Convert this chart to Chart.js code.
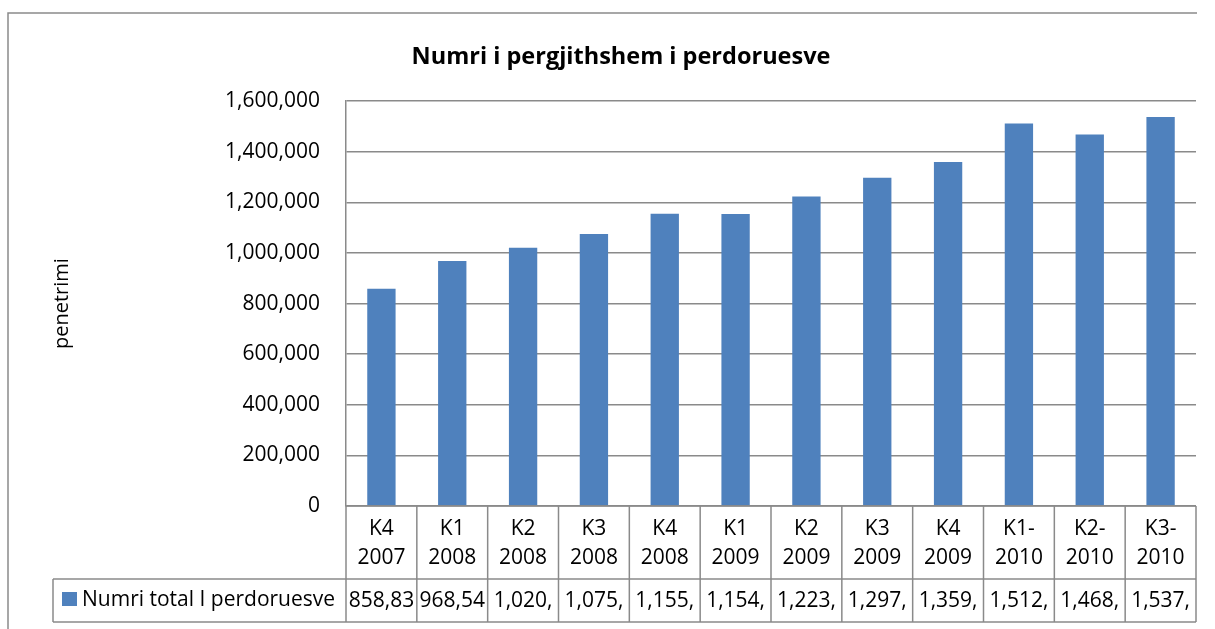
<!DOCTYPE html>
<html>
<head>
<meta charset="utf-8">
<title>Numri i pergjithshem i perdoruesve</title>
<script src="https://cdn.jsdelivr.net/npm/chart.js@4.4.1/dist/chart.umd.min.js"></script>
<style>
    body { margin: 0; background: #fff; }
    #wrap { width: 1215px; height: 629px; position: relative; }
</style>
</head>
<body>
<div id="wrap"><canvas id="usersChart"></canvas></div>
<script>
// Data
const quarters = ['K4 2007', 'K1 2008', 'K2 2008', 'K3 2008', 'K4 2008', 'K1 2009',
    'K2 2009', 'K3 2009', 'K4 2009', 'K1-2010', 'K2-2010', 'K3-2010'];
const totalUsers = [858835, 968545, 1020400, 1075300, 1155600, 1154200,
    1223500, 1297300, 1359400, 1512300, 1468200, 1537600];
const yTicks = [0, 200000, 400000, 600000, 800000, 1000000, 1200000, 1400000, 1600000];
const seriesName = 'Numri total I perdoruesve';

const barColor = '#4F81BD';
const lineColor = '#8a8a8a';
const fontFamily = '"Open Sans", "DejaVu Sans", sans-serif';

function fmt(v) {
    return v.toLocaleString('en-US');
}

// split "K4 2007" / "K1-2010" onto two lines like the table header
function wrapLabel(label) {
    if (label.includes(' ')) return label.split(' ');
    const i = label.indexOf('-');
    return [label.slice(0, i + 1), label.slice(i + 1)];
}

// cut text down until it fits the cell, like the spreadsheet does
function fitText(ctx, text, maxWidth) {
    let t = text;
    while (t.length > 1 && ctx.measureText(t).width > maxWidth) t = t.slice(0, -1);
    return t;
}

// Draws the frame and the data table under the plot
const dataTablePlugin = {
    id: 'dataTable',
    afterDraw(chart) {
        const ctx = chart.ctx;
        const area = chart.chartArea;
        const n = quarters.length;
        const w = (area.right - area.left) / n;
        const rowTop = area.bottom;
        const rowMid = 579;
        const rowBottom = 622;
        const legendLeft = 53;

        ctx.save();
        ctx.strokeStyle = lineColor;
        ctx.lineWidth = 1.5;

        // outer frame
        ctx.beginPath();
        ctx.moveTo(8, 629);
        ctx.lineTo(8, 13);
        ctx.lineTo(1197, 13);
        ctx.stroke();

        ctx.beginPath();
        ctx.moveTo(area.left, rowTop);
        ctx.lineTo(area.right, rowTop);
        ctx.moveTo(legendLeft, rowMid);
        ctx.lineTo(area.right, rowMid);
        ctx.moveTo(legendLeft, rowBottom);
        ctx.lineTo(area.right, rowBottom);
        ctx.moveTo(legendLeft, rowMid);
        ctx.lineTo(legendLeft, rowBottom);
        for (let k = 0; k <= n; k++) {
            const x = area.left + k * w;
            ctx.moveTo(x, rowTop);
            ctx.lineTo(x, rowBottom);
        }
        ctx.stroke();

        ctx.fillStyle = '#000';
        ctx.font = '21px ' + fontFamily;
        ctx.textAlign = 'center';
        ctx.textBaseline = 'middle';
        const xScale = chart.scales.x;
        quarters.forEach((q, i) => {
            const cx = xScale.getPixelForValue(i);
            const lines = wrapLabel(q);
            ctx.fillText(lines[0], cx, 529);
            ctx.fillText(lines[1], cx, 558);
            ctx.fillText(fitText(ctx, fmt(totalUsers[i]), w - 3), cx, 601);
        });

        // legend key inside the table
        ctx.fillStyle = barColor;
        ctx.fillRect(62, 592, 15, 14);
        ctx.fillStyle = '#000';
        ctx.textAlign = 'left';
        ctx.fillText(seriesName, 82, 600);
        ctx.restore();
    }
};

const ctx = document.getElementById('usersChart').getContext('2d');
new Chart(ctx, {
    type: 'bar',
    data: {
        labels: quarters,
        datasets: [{
            label: seriesName,
            data: totalUsers,
            backgroundColor: barColor,
            borderWidth: 0,
            categoryPercentage: 1,
            barPercentage: 0.4
        }]
    },
    options: {
        responsive: true,
        maintainAspectRatio: false,
        animation: false,
        layout: { padding: { left: 46, right: 19, top: 13, bottom: 123 } },
        plugins: {
            legend: { display: false },
            tooltip: { enabled: false },
            title: {
                display: true,
                text: 'Numri i pergjithshem i perdoruesve',
                color: '#000',
                font: { family: fontFamily, size: 23.5, weight: 'bold' },
                padding: { top: 30, bottom: 30 }
            }
        },
        scales: {
            x: { display: false },
            y: {
                min: 0,
                max: yTicks[yTicks.length - 1],
                afterFit(scale) { scale.width = 300; },
                afterBuildTicks(scale) { scale.ticks = yTicks.map(v => ({ value: v })); },
                ticks: {
                    color: '#000',
                    padding: 26,
                    font: { family: fontFamily, size: 21 },
                    callback: v => fmt(v)
                },
                grid: { color: lineColor, lineWidth: 1.5, drawTicks: false },
                border: { color: lineColor, width: 1.5 },
                title: {
                    display: true,
                    text: 'penetrimi',
                    color: '#000',
                    font: { family: fontFamily, size: 20 },
                    padding: { top: 4, bottom: 4 }
                }
            }
        }
    },
    plugins: [dataTablePlugin]
});
</script>
</body>
</html>
